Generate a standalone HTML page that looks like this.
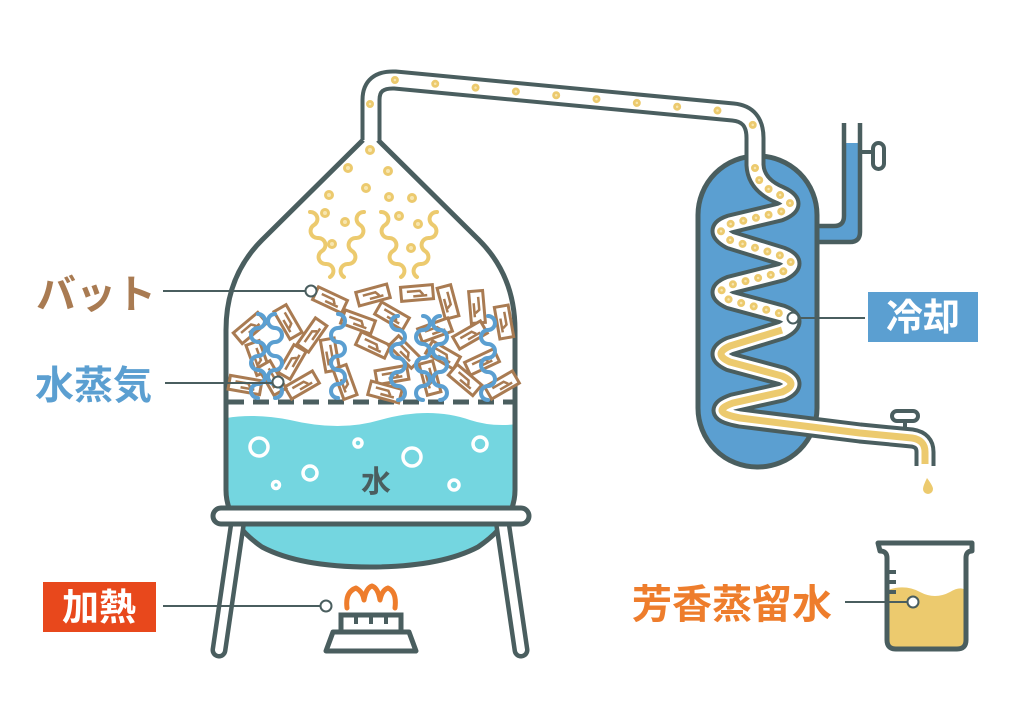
<!DOCTYPE html>
<html><head><meta charset="utf-8"><style>
html,body{margin:0;padding:0;background:#fff}
svg{display:block}
text{font-family:"Liberation Sans","Noto Sans CJK JP",sans-serif;font-weight:bold}
</style></head><body>
<svg width="1024" height="724" viewBox="0 0 1024 724" xmlns="http://www.w3.org/2000/svg">
<defs>
<g id="chip"><rect x="-16" y="-7" width="32" height="14" fill="#fff" stroke="#a97b52" stroke-width="3"/><path d="M-10,-2 H3 L6,2 M-4,3 H10" stroke="#a97b52" stroke-width="2.5" fill="none"/></g>
<clipPath id="body"><path d="M363,140 L262,240 Q226,276 226,330 V490 Q226,522 262,547 Q300,567 370,567 Q440,567 478,547 Q515,522 515,490 V330 Q515,276 479,240 L378,140 Z"/></clipPath>
</defs>

<path d="M363,140 L262,240 Q226,276 226,330 V490 Q226,522 262,547 Q300,567 370,567 Q440,567 478,547 Q515,522 515,490 V330 Q515,276 479,240 L378,140 Z" fill="#fff"/>
<g clip-path="url(#body)">
<path d="M200,425 Q240,410 290,420 Q340,432 380,420 Q430,406 470,420 Q500,430 540,420 V600 H200 Z" fill="#74d6e0"/>
</g>
<path d="M363,140 L262,240 Q226,276 226,330 V490 Q226,522 262,547 Q300,567 370,567 Q440,567 478,547 Q515,522 515,490 V330 Q515,276 479,240 L378,140" fill="none" stroke="#4a5e5f" stroke-width="5"/>
<line x1="228" y1="402" x2="513" y2="402" stroke="#4a5e5f" stroke-width="5" stroke-dasharray="16,9"/>
<g fill="none" stroke="#fff" stroke-width="3.5">
<circle cx="259" cy="447" r="9"/><circle cx="310" cy="473" r="7"/><circle cx="276" cy="485" r="3.5"/><circle cx="358" cy="443" r="4"/><circle cx="412" cy="457" r="9"/><circle cx="480" cy="444" r="7"/><circle cx="454" cy="485" r="5"/>
</g>
<text x="376" y="492" font-size="30" fill="#4a5e5f" text-anchor="middle">水</text>

<g>
<use href="#chip" transform="translate(330,300) rotate(25)"/>
<use href="#chip" transform="translate(373,295) rotate(-15)"/>
<use href="#chip" transform="translate(417,293) rotate(-5)"/>
<use href="#chip" transform="translate(448,302) rotate(75)"/>
<use href="#chip" transform="translate(477,307) rotate(85)"/>
<use href="#chip" transform="translate(250,328) rotate(-40)"/>
<use href="#chip" transform="translate(288,322) rotate(60)"/>
<use href="#chip" transform="translate(312,335) rotate(-55)"/>
<use href="#chip" transform="translate(358,322) rotate(20)"/>
<use href="#chip" transform="translate(392,316) rotate(30)"/>
<use href="#chip" transform="translate(435,330) rotate(-20)"/>
<use href="#chip" transform="translate(470,335) rotate(-30)"/>
<use href="#chip" transform="translate(504,322) rotate(80)"/>
<use href="#chip" transform="translate(258,358) rotate(70)"/>
<use href="#chip" transform="translate(292,362) rotate(-60)"/>
<use href="#chip" transform="translate(330,355) rotate(80)"/>
<use href="#chip" transform="translate(373,345) rotate(25)"/>
<use href="#chip" transform="translate(405,352) rotate(45)"/>
<use href="#chip" transform="translate(443,355) rotate(30)"/>
<use href="#chip" transform="translate(482,362) rotate(-25)"/>
<use href="#chip" transform="translate(245,385) rotate(10)"/>
<use href="#chip" transform="translate(302,385) rotate(-30)"/>
<use href="#chip" transform="translate(345,382) rotate(70)"/>
<use href="#chip" transform="translate(392,375) rotate(-10)"/>
<use href="#chip" transform="translate(430,378) rotate(75)"/>
<use href="#chip" transform="translate(465,380) rotate(40)"/>
<use href="#chip" transform="translate(502,385) rotate(-30)"/>
<use href="#chip" transform="translate(272,378) rotate(60)"/>
<use href="#chip" transform="translate(385,392) rotate(15)"/>
</g>
<g fill="none" stroke="#5b9fd1" stroke-width="4" stroke-linecap="round">
<path d="M258,314 a7,7 0 0 1 0,14 a7,7 0 0 0 0,14 a7,7 0 0 1 0,14 a7,7 0 0 0 0,14 a7,7 0 0 1 0,14 a7,7 0 0 0 0,14"/>
<path d="M275,314 a7,7 0 0 0 0,14 a7,7 0 0 1 0,14 a7,7 0 0 0 0,14 a7,7 0 0 1 0,14 a7,7 0 0 0 0,14 a7,7 0 0 1 0,14"/>
<path d="M338,314 a7,7 0 0 1 0,14 a7,7 0 0 0 0,14 a7,7 0 0 1 0,14 a7,7 0 0 0 0,14 a7,7 0 0 1 0,14 a7,7 0 0 0 0,14"/>
<path d="M398,316 a7,7 0 0 0 0,14 a7,7 0 0 1 0,14 a7,7 0 0 0 0,14 a7,7 0 0 1 0,14 a7,7 0 0 0 0,14 a7,7 0 0 1 0,14"/>
<path d="M423,316 a7,7 0 0 1 0,14 a7,7 0 0 0 0,14 a7,7 0 0 1 0,14 a7,7 0 0 0 0,14 a7,7 0 0 1 0,14 a7,7 0 0 0 0,14"/>
<path d="M440,316 a7,7 0 0 0 0,14 a7,7 0 0 1 0,14 a7,7 0 0 0 0,14 a7,7 0 0 1 0,14 a7,7 0 0 0 0,14 a7,7 0 0 1 0,14"/>
<path d="M488,316 a7,7 0 0 1 0,14 a7,7 0 0 0 0,14 a7,7 0 0 1 0,14 a7,7 0 0 0 0,14 a7,7 0 0 1 0,14 a7,7 0 0 0 0,14"/>
</g>
<g fill="none" stroke="#ecca6e" stroke-width="4" stroke-linecap="round">
<path d="M310,212 a7,7 0 0 1 4,13 a7,7 0 0 0 4,13 a7,7 0 0 1 4,13 a7,7 0 0 0 4,13 a7,7 0 0 1 4,13"/>
<path d="M364,212 a7,7 0 0 0 -4,13 a7,7 0 0 1 -4,13 a7,7 0 0 0 -4,13 a7,7 0 0 1 -4,13 a7,7 0 0 0 -4,13"/>
<path d="M381,212 a7,7 0 0 1 4,13 a7,7 0 0 0 4,13 a7,7 0 0 1 4,13 a7,7 0 0 0 4,13 a7,7 0 0 1 4,13"/>
<path d="M437,212 a7,7 0 0 0 -4,13 a7,7 0 0 1 -4,13 a7,7 0 0 0 -4,13 a7,7 0 0 1 -4,13 a7,7 0 0 0 -4,13"/>
</g>
<g fill="#f7e6b0" stroke="#ecca6e" stroke-width="3">
<circle cx="370" cy="150" r="3.5"/><circle cx="348" cy="168" r="3.5"/><circle cx="388" cy="171" r="3.5"/><circle cx="329" cy="195" r="3.5"/><circle cx="366" cy="188" r="3.5"/><circle cx="389" cy="197" r="3.5"/><circle cx="412" cy="198" r="3.5"/>
<circle cx="325" cy="213" r="3.5"/><circle cx="345" cy="222" r="3.5"/><circle cx="332" cy="244" r="3.5"/><circle cx="399" cy="216" r="3.5"/><circle cx="418" cy="224" r="3.5"/><circle cx="411" cy="248" r="3.5"/>
</g>

<g stroke-linecap="round">
<line x1="238" y1="520" x2="219" y2="650" stroke="#4a5e5f" stroke-width="17"/>
<line x1="238" y1="520" x2="219" y2="650" stroke="#fff" stroke-width="8"/>
<line x1="502" y1="520" x2="521" y2="650" stroke="#4a5e5f" stroke-width="17"/>
<line x1="502" y1="520" x2="521" y2="650" stroke="#fff" stroke-width="8"/>
</g>
<rect x="213" y="508" width="316" height="16" rx="8" fill="#fff" stroke="#4a5e5f" stroke-width="5"/>

<path d="M347,608 Q345,592 356,588 Q363,592 364,600 Q366,588 372,586 Q378,588 380,600 Q382,590 388,588 Q397,592 395,608" fill="none" stroke="#ee7d2c" stroke-width="5" stroke-linecap="round" stroke-linejoin="round"/>
<rect x="341" y="615" width="60" height="17" fill="#fff" stroke="#4a5e5f" stroke-width="5"/>
<path d="M356,617 V624 M371,617 V624 M386,617 V624" stroke="#4a5e5f" stroke-width="4"/>
<path d="M333,632 H409 L416,651 H326 Z" fill="#fff" stroke="#4a5e5f" stroke-width="5" stroke-linejoin="round"/>

<path d="M844,123 V216 Q844,226 834,226 H812 V242 H850 Q860,242 860,232 V123" fill="#5b9fd1" stroke="none"/>
<rect x="844" y="123" width="16" height="20" fill="#fff"/>
<path d="M844,123 V216 Q844,226 834,226 H812 M812,242 H850 Q860,242 860,232 V123" fill="none" stroke="#4a5e5f" stroke-width="4.5"/>
<line x1="860" y1="152" x2="873" y2="152" stroke="#4a5e5f" stroke-width="4"/>
<rect x="873" y="143" width="11" height="26" rx="5.5" fill="#fff" stroke="#4a5e5f" stroke-width="4"/>

<rect x="698" y="156" width="119" height="311" rx="59" fill="#5b9fd1" stroke="#4a5e5f" stroke-width="5"/>

<line x1="905" y1="420" x2="905" y2="432" stroke="#4a5e5f" stroke-width="4"/>
<rect x="892" y="411" width="26" height="10" rx="5" fill="#fff" stroke="#4a5e5f" stroke-width="4"/>

<!-- pipe + coil -->
<g fill="none" stroke-linejoin="round">
<path d="M371,140 V100 Q371,79 395,80 L733,112 Q755,114 755,138 V165 Q756,185 780,195 Q800,204 780,212 L730,224 Q712,230 730,240 L782,256 Q800,263 782,272 L730,285 Q712,292 730,300 L782,314 Q800,321 782,330 L730,346 Q712,354 730,362 L782,376 Q800,384 782,392 L733,403 Q708,412 740,418 L860,433 L912,438 Q925,440 925,452 V466" stroke="#4a5e5f" stroke-width="21"/>
<path d="M371,140 V100 Q371,79 395,80 L733,112 Q755,114 755,138 V165 Q756,185 780,195 Q800,204 780,212 L730,224 Q712,230 730,240 L782,256 Q800,263 782,272 L730,285 Q712,292 730,300 L782,314 Q800,321 782,330 L730,346 Q712,354 730,362 L782,376 Q800,384 782,392 L733,403 Q708,412 740,418 L860,433 L912,438 Q925,440 925,452 V466" stroke="#fff" stroke-width="13"/>
<!-- dots -->
<path d="M370,104 V100 Q371,79 395,80 L733,112 Q755,114 755,138 V150" stroke="#ecca6e" stroke-width="8" stroke-linecap="round" stroke-dasharray="0 40.5"/>
<path d="M370,104 V100 Q371,79 395,80 L733,112 Q755,114 755,138 V150" stroke="#f7e6b0" stroke-width="2.5" stroke-linecap="round" stroke-dasharray="0 40.5"/>
<path d="M755,168 Q756,185 780,195 Q800,204 780,212 L730,224 Q712,230 730,240 L782,256 Q800,263 782,272 L730,285 Q712,292 730,300 L782,314 Q795,319 790,322" stroke="#ecca6e" stroke-width="8" stroke-linecap="round" stroke-dasharray="0 13"/>
<path d="M755,168 Q756,185 780,195 Q800,204 780,212 L730,224 Q712,230 730,240 L782,256 Q800,263 782,272 L730,285 Q712,292 730,300 L782,314 Q795,319 790,322" stroke="#f7e6b0" stroke-width="2.5" stroke-linecap="round" stroke-dasharray="0 13"/>
<path d="M782,330 L730,346 Q712,354 730,362 L782,376 Q800,384 782,392 L733,403 Q708,412 740,418 L860,433 L912,438 Q925,440 925,452 V464" stroke="#ecca6e" stroke-width="7"/>
</g>
<path d="M927,478 Q933,486 933,489 A5,5 0 0 1 923,489 Q923,486 927,478 Z" fill="#ecca6e"/>

<path d="M888,590 Q905,584 920,592 Q935,600 950,592 Q960,586 965,590 V640 Q965,648 957,648 H896 Q888,648 888,640 Z" fill="#ecca6e"/>
<path d="M878,543 H972 V551 Q966,551 966,558 V640 Q966,649 957,649 H896 Q887,649 887,640 V558 Q887,551 880,551 Z" fill="none" stroke="#4a5e5f" stroke-width="5" stroke-linejoin="round"/>
<path d="M887,572 H896 M887,582 H896 M887,592 H896" stroke="#4a5e5f" stroke-width="4"/>

<g stroke="#4a5e5f" stroke-width="2" fill="#fff">
<line x1="163" y1="291" x2="305" y2="291"/><circle cx="311" cy="291" r="5.5"/>
<line x1="165" y1="383" x2="272" y2="383"/><circle cx="278" cy="382" r="5.5"/>
<line x1="163" y1="606" x2="320" y2="606"/><circle cx="326" cy="606" r="5.5"/>
<line x1="798" y1="318" x2="865" y2="318"/><circle cx="793" cy="318" r="5.5"/>
<line x1="845" y1="602" x2="908" y2="602"/><circle cx="913" cy="602" r="5.5"/>
</g>
<text x="36" y="308" font-size="40" fill="#a97b52">バット</text>
<text x="35" y="399" font-size="39" fill="#5b9fd1">水蒸気</text>
<rect x="43" y="582" width="113" height="50" fill="#e8481c"/>
<text x="99" y="620" font-size="37" fill="#fff" text-anchor="middle">加熱</text>
<rect x="868" y="292" width="110" height="50" fill="#5b9fd1"/>
<text x="923" y="330" font-size="37" fill="#fff" text-anchor="middle">冷却</text>
<text x="632" y="618" font-size="40" fill="#ee7d2c">芳香蒸留水</text>
</svg>
</body></html>
